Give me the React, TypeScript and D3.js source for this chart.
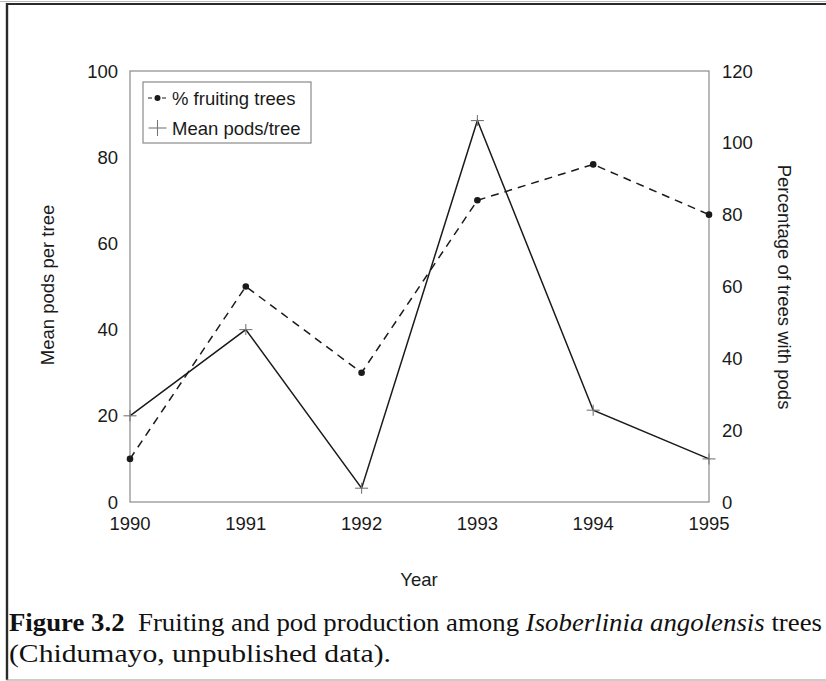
import React from "react";
import * as d3 from "d3";

const years = [1990, 1991, 1992, 1993, 1994, 1995];
const fruitingPct = [12, 60, 36, 84, 94, 80];
const meanPods = [20, 40, 3.2, 88.5, 21.3, 10];
const leftTicks = [0, 20, 40, 60, 80, 100];
const rightTicks = [0, 20, 40, 60, 80, 100, 120];
const legendLabels = ["% fruiting trees", "Mean pods/tree"];
const captionBold = "Figure 3.2";
const captionText1 = "Fruiting and pod production among ";
const captionItalic = "Isoberlinia angolensis";
const captionText2 = " trees";
const captionLine2 = "(Chidumayo, unpublished data).";

const W = 826;
const H = 681;
const m = { left: 130, right: 709, top: 71, bottom: 502 };

export default function App() {
  const x = d3.scaleLinear().domain([1990, 1995]).range([m.left, m.right]);
  const yL = d3.scaleLinear().domain([0, 100]).range([m.bottom, m.top]);
  const yR = d3.scaleLinear().domain([0, 120]).range([m.bottom, m.top]);

  const podLine = d3
    .line<number>()
    .x((_, i) => x(years[i]))
    .y((d) => yL(d));
  const fruitLine = d3
    .line<number>()
    .x((_, i) => x(years[i]))
    .y((d) => yR(d));

  const sans = "'Liberation Sans', Arial, Helvetica, sans-serif";
  const serif = "'Liberation Serif', 'Times New Roman', serif";
  const fs = 18.5;
  const textCol = "#1a1a1a";
  const axisCol = "#8a8a8a";

  const plus = (cx: number, cy: number, s: number, key: any) => (
    <g key={key} stroke="#777" strokeWidth={1.1}>
      <line x1={cx - s} x2={cx + s} y1={cy} y2={cy} />
      <line x1={cx} x2={cx} y1={cy - s + 1} y2={cy + s - 1} />
    </g>
  );

  return (
    <svg
      width={W}
      height={H}
      style={{ position: "absolute", left: 0, top: 0, background: "#fff" }}
    >
      <rect x={0} y={0} width={W} height={H} fill="#fff" />
      {/* frame */}
      <line x1={0} x2={W} y1={1.5} y2={1.5} stroke="#bbb" strokeWidth={1} />
      <line x1={6} x2={W} y1={4} y2={4} stroke="#2a2a2a" strokeWidth={2.2} />
      <line x1={7} x2={7} y1={3} y2={680} stroke="#2a2a2a" strokeWidth={2.4} />
      <line x1={6} x2={W} y1={680} y2={680} stroke="#999" strokeWidth={1.2} />

      {/* plot box */}
      <rect
        x={m.left}
        y={m.top}
        width={m.right - m.left}
        height={m.bottom - m.top}
        fill="none"
        stroke={axisCol}
        strokeWidth={1.2}
      />

      {/* left ticks */}
      {leftTicks.map((t) => (
        <text
          key={"l" + t}
          x={118}
          y={yL(t)}
          dy="0.36em"
          textAnchor="end"
          fontFamily={sans}
          fontSize={fs}
          fill={textCol}
        >
          {t}
        </text>
      ))}
      {/* right ticks */}
      {rightTicks.map((t) => (
        <text
          key={"r" + t}
          x={722}
          y={yR(t)}
          dy="0.36em"
          textAnchor="start"
          fontFamily={sans}
          fontSize={fs}
          fill={textCol}
        >
          {t}
        </text>
      ))}
      {/* x ticks */}
      {years.map((yv) => (
        <text
          key={"x" + yv}
          x={x(yv)}
          y={530}
          textAnchor="middle"
          fontFamily={sans}
          fontSize={fs}
          fill={textCol}
        >
          {yv}
        </text>
      ))}

      {/* axis titles */}
      <text
        x={419}
        y={586}
        textAnchor="middle"
        fontFamily={sans}
        fontSize={fs}
        fill={textCol}
      >
        Year
      </text>
      <text
        transform={`translate(47,${285}) rotate(-90)`}
        dy="0.36em"
        textAnchor="middle"
        fontFamily={sans}
        fontSize={fs}
        fill={textCol}
      >
        Mean pods per tree
      </text>
      <text
        transform={`translate(785,${287}) rotate(90)`}
        dy="0.36em"
        textAnchor="middle"
        fontFamily={sans}
        fontSize={fs}
        fill={textCol}
      >
        Percentage of trees with pods
      </text>

      {/* series */}
      <path
        d={fruitLine(fruitingPct) || ""}
        fill="none"
        stroke="#1a1a1a"
        strokeWidth={1.5}
        strokeDasharray="8,6"
      />
      <path
        d={podLine(meanPods) || ""}
        fill="none"
        stroke="#1a1a1a"
        strokeWidth={1.5}
      />
      {fruitingPct.map((v, i) => (
        <circle key={"c" + i} cx={x(years[i])} cy={yR(v)} r={3.3} fill="#1a1a1a" />
      ))}
      {meanPods.map((v, i) => plus(x(years[i]), yL(v), 6.5, "p" + i))}

      {/* legend */}
      <rect
        x={143}
        y={82}
        width={168}
        height={61}
        fill="#fff"
        stroke={axisCol}
        strokeWidth={1.2}
      />
      <line x1={148} x2={167} y1={98} y2={98} stroke="#1a1a1a" strokeWidth={1.2} strokeDasharray="4,3" />
      <circle cx={157.5} cy={98} r={3} fill="#1a1a1a" />
      <text x={172} y={98} dy="0.36em" fontFamily={sans} fontSize={fs} fill={textCol}>
        {legendLabels[0]}
      </text>
      {plus(157.5, 128, 9, "legplus")}
      <text x={172} y={128} dy="0.36em" fontFamily={sans} fontSize={fs} fill={textCol}>
        {legendLabels[1]}
      </text>

      {/* caption */}
      <text
        x={9}
        y={631}
        fontFamily={serif}
        fontSize={26}
        fill="#111"
        textLength={813}
        lengthAdjust="spacingAndGlyphs"
      >
        <tspan fontWeight="bold">{captionBold}</tspan>
        <tspan>{"\u2002" + captionText1}</tspan>
        <tspan fontStyle="italic">{captionItalic}</tspan>
        <tspan>{captionText2}</tspan>
      </text>
      <text
        x={9}
        y={662}
        fontFamily={serif}
        fontSize={26}
        fill="#111"
        textLength={382}
        lengthAdjust="spacingAndGlyphs"
      >
        {captionLine2}
      </text>
    </svg>
  );
}
